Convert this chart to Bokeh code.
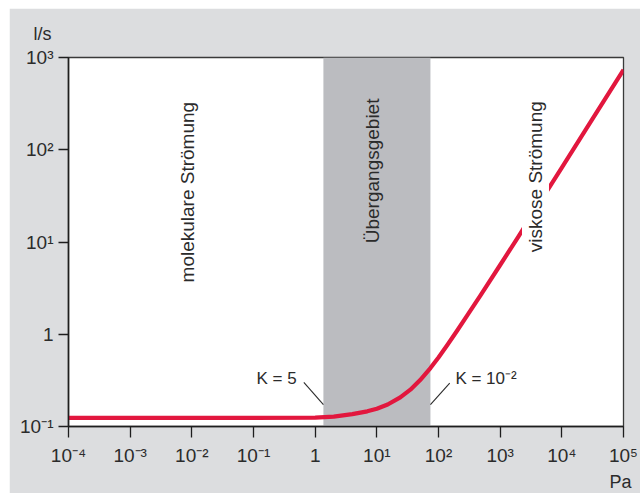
from math import pi

from bokeh.core.properties import value
from bokeh.embed import file_html
from bokeh.models import BoxAnnotation, ColumnDataSource, FixedTicker, Range1d, Title
from bokeh.plotting import figure
from bokeh.resources import INLINE

# Flow conductance curve: pressure in Pa, throughput in l/s
pressure_pa = [1e-4, 1e-3, 1e-2, 1e-1, 1.0, 2.0, 4.0, 7.0, 10.0, 15.0, 24.0, 35.0, 50.0,
               74.0, 100.0, 140.0, 200.0, 300.0, 480.0, 1000.0, 2000.0, 5000.0, 1e4, 3e4, 1e5]
flow_ls = [0.124, 0.124, 0.124, 0.124, 0.125, 0.128, 0.136, 0.146, 0.156, 0.173, 0.207, 0.251,
           0.317, 0.430, 0.561, 0.769, 1.09, 1.64, 2.64, 5.63, 11.6, 30.8, 64.1, 206.0, 736.0]

# Transition region bounds (Knudsen numbers K = 5 and K = 10^-2)
transition_pa = [1.36, 74.0]

x_ticks = [1e-4, 1e-3, 1e-2, 1e-1, 1.0, 1e1, 1e2, 1e3, 1e4, 1e5]
x_tick_labels = ["10⁻⁴", "10⁻³", "10⁻²", "10⁻¹", "1", "10¹", "10²", "10³", "10⁴", "10⁵"]
y_ticks = [1e-1, 1.0, 1e1, 1e2, 1e3]
y_tick_labels = ["10⁻¹", "1", "10¹", "10²", "10³"]

# Region names (rotated) with their anchor positions
region_names = ["molekulare Strömung", "Übergangsgebiet"]
region_x = [0.0085, 8.5]
region_y = [34.7, 59.0]
viscous_name = ["viskose Strömung"]
viscous_x = [3740.0]
viscous_y = [51.0]

# Knudsen labels and their leader lines
k_labels = ["K = 5", "K = 10⁻²"]
k_label_x = [0.236, 188.0]
k_label_y = [0.33, 0.33]
k_label_align = ["center", "left"]
leader_x0 = [0.655, 74.0]
leader_y0 = [0.301, 0.173]
leader_x1 = [1.36, 152.0]
leader_y1 = [0.173, 0.296]

FONT = "Liberation Sans"
TEXT = "#2b2b2b"
BG = "#dcdddf"

p = figure(
    width=631, height=485,
    x_axis_type="log", y_axis_type="log",
    x_range=Range1d(1e-4, 1e5), y_range=Range1d(1e-1, 1e3),
    output_backend="svg", toolbar_location=None,
    min_border_left=59, min_border_right=17, min_border_top=49, min_border_bottom=66,
    background_fill_color="white", border_fill_color=BG,
    outline_line_color="#3a3a3a", outline_line_width=1.3,
    margin=(8, 0, 0, 9),
)
p.grid.visible = False

# Unit labels: l/s above the y axis, Pa below the end of the x axis
p.title = Title(text="l/s", align="left", offset=-35, standoff=27,
                text_font=FONT, text_font_size="18px", text_font_style="normal",
                text_color=TEXT)
p.add_layout(Title(text="Pa", align="right", offset=-8, standoff=3,
                   text_font=FONT, text_font_size="18px", text_font_style="normal",
                   text_color=TEXT), "below")

for ax, ticks, labels, out in ((p.xaxis[0], x_ticks, x_tick_labels, 11),
                               (p.yaxis[0], y_ticks, y_tick_labels, 10)):
    ax.ticker = FixedTicker(ticks=ticks)
    ax.major_label_overrides = {t: lab for t, lab in zip(ticks, labels)}
    ax.major_tick_in = 0
    ax.major_tick_out = out
    ax.minor_tick_line_color = None
    ax.axis_line_color = "#1e1e1e"
    ax.axis_line_width = 1.6
    ax.major_tick_line_color = "#1e1e1e"
    ax.major_tick_line_width = 1.3
    ax.major_label_text_font = FONT
    ax.major_label_text_font_size = "19px"
    ax.major_label_text_color = TEXT
p.xaxis.major_label_standoff = 7
p.yaxis.major_label_standoff = 5

# Shaded transition region
p.add_layout(BoxAnnotation(left=transition_pa[0], right=transition_pa[1],
                           fill_color="#bbbcc0", fill_alpha=1.0, line_color=None,
                           level="underlay"))

# Leader lines for the Knudsen labels
p.segment(x0=leader_x0, y0=leader_y0, x1=leader_x1, y1=leader_y1,
          line_color="#2b2b2b", line_width=1.1)

# Conductance curve
src = ColumnDataSource(dict(p=pressure_pa, q=flow_ls))
p.line("p", "q", source=src, line_color="#e2173e", line_width=4.2, line_join="round")

# Region names
p.text(x=region_x, y=region_y, text=region_names, angle=pi / 2,
       text_align="center", text_baseline="middle",
       text_font=value(FONT), text_font_size="19px", text_color=TEXT)
p.text(x=viscous_x, y=viscous_y, text=viscous_name, angle=pi / 2,
       text_align="center", text_baseline="middle",
       text_font=value(FONT), text_font_size="19px", text_color=TEXT,
       background_fill_color="white", padding=3)

# Knudsen labels
p.text(x=k_label_x, y=k_label_y, text=k_labels, text_align=k_label_align,
       text_baseline="alphabetic",
       text_font=value(FONT), text_font_size="17px", text_color=TEXT)

open("out.html", "w").write(file_html(p, INLINE))
